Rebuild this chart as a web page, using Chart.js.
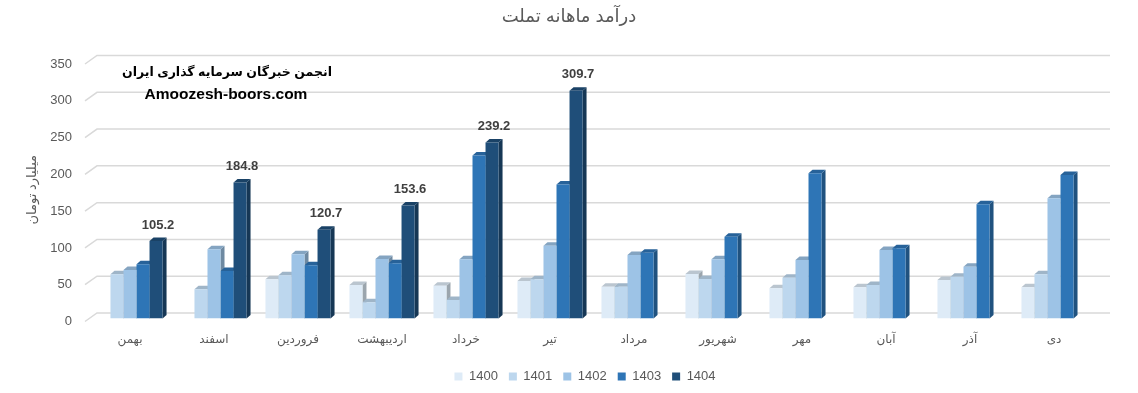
<!DOCTYPE html>
<html>
<head>
<meta charset="utf-8">
<script src="https://cdn.jsdelivr.net/npm/chart.js@4.4.0/dist/chart.umd.min.js"></script>
<style>
html,body{margin:0;padding:0;background:#fff;}
canvas{display:block;}
</style>
</head>
<body>
<canvas id="c" width="1138" height="393"></canvas>
<script>
// ---- data ----
const categories = ['بهمن','اسفند','فروردین','اردیبهشت','خرداد','تیر','مرداد','شهریور','مهر','آبان','آذر','دی'];
const years = ['1400','1401','1402','1403','1404'];
const s1400 = [null, null, 53.3, 45.5, 44.6, 51.0, 43.3, 60.5, 41.0, 42.4, 52.3, 42.4];
const s1401 = [60.1, 39.7, 58.7, 22.0, 25.2, 53.3, 43.3, 53.7, 55.5, 45.5, 56.9, 60.0];
const s1402 = [66.0, 94.0, 87.3, 81.0, 80.5, 99.0, 86.3, 80.5, 79.5, 93.1, 70.4, 163.4];
const s1403 = [73.7, 64.6, 72.3, 75.0, 221.4, 182.0, 89.5, 111.2, 197.4, 95.4, 155.3, 195.1];
const s1404 = [105.2, 184.8, 120.7, 153.6, 239.2, 309.7, null, null, null, null, null, null];
const yTicks = [0, 50, 100, 150, 200, 250, 300, 350];
const chartTitle = 'درآمد ماهانه تملت';
const yAxisTitle = 'میلیارد تومان';
const watermarkLines = ['انجمن خبرگان سرمایه گذاری ایران', 'Amoozesh-boors.com'];
const seriesColors = ['#DEEBF7', '#BDD7EE', '#9DC3E6', '#2E75B6', '#1F4E79'];
const seriesData = [s1400, s1401, s1402, s1403, s1404];

const FONT = "'Liberation Sans', 'DejaVu Sans', sans-serif";
const DX = 4, DY = 3.5;

function shade(hex, f) {
  const n = parseInt(hex.slice(1), 16);
  const r = (n >> 16) & 255, g = (n >> 8) & 255, b = n & 255;
  return 'rgb(' + Math.round(r * f) + ',' + Math.round(g * f) + ',' + Math.round(b * f) + ')';
}

const bar3d = {
  id: 'bar3d',
  afterLayout(chart) {
    const t = chart.titleBlock;
    if (t) { t.left = 0; t.right = chart.width; t.width = chart.width; }
    const l = chart.legend;
    if (l) { l.left -= 7; l.right -= 7; }
  },
  beforeDatasetsDraw(chart) {
    const ctx = chart.ctx, a = chart.chartArea, y = chart.scales.y;
    ctx.save();
    ctx.strokeStyle = '#d9d9d9';
    ctx.lineWidth = 1.5;
    yTicks.forEach(v => {
      const p = y.getPixelForValue(v);
      ctx.beginPath();
      ctx.moveTo(a.left - 3, p + 3);
      ctx.lineTo(a.left + 9, p - 5.5);
      ctx.lineTo(a.right + 14, p - 5.5);
      ctx.stroke();
    });
    chart.data.datasets.forEach((ds, di) => {
      const meta = chart.getDatasetMeta(di);
      meta.data.forEach((el, i) => {
        if (ds.data[i] == null) return;
        const p = el.getProps(['x', 'y', 'base', 'width'], true);
        const l = p.x - p.width / 2, r = p.x + p.width / 2;
        ctx.fillStyle = shade(ds.backgroundColor, 0.7);
        ctx.beginPath();
        ctx.moveTo(r, p.y); ctx.lineTo(r + DX, p.y - DY); ctx.lineTo(r + DX, p.base - DY); ctx.lineTo(r, p.base);
        ctx.closePath(); ctx.fill();
        ctx.fillStyle = shade(ds.backgroundColor, 0.84);
        ctx.beginPath();
        ctx.moveTo(l, p.y); ctx.lineTo(l + DX, p.y - DY); ctx.lineTo(r + DX, p.y - DY); ctx.lineTo(r, p.y);
        ctx.closePath(); ctx.fill();
      });
    });
    ctx.restore();
  },
  afterDatasetsDraw(chart) {
    const ctx = chart.ctx;
    ctx.save();
    const di = chart.data.datasets.length - 1;
    const ds = chart.data.datasets[di];
    const meta = chart.getDatasetMeta(di);
    ctx.fillStyle = '#404040';
    ctx.font = 'bold 13px ' + FONT;
    ctx.textAlign = 'center';
    ctx.textBaseline = 'middle';
    meta.data.forEach((el, i) => {
      if (ds.data[i] == null) return;
      ctx.fillText(ds.data[i].toFixed(1), el.x + 2, el.y - 16);
    });
    ctx.fillStyle = '#000000';
    ctx.font = 'bold 12.5px ' + FONT;
    ctx.fillText(watermarkLines[0], 227, 72.5);
    ctx.font = 'bold 15.5px ' + FONT;
    ctx.fillText(watermarkLines[1], 226, 95);
    ctx.restore();
  }
};

new Chart(document.getElementById('c'), {
  type: 'bar',
  data: {
    labels: categories,
    datasets: years.map((yr, i) => ({
      label: yr,
      data: seriesData[i],
      backgroundColor: seriesColors[i],
      borderWidth: 0,
      categoryPercentage: 0.775,
      barPercentage: 1.0
    }))
  },
  options: {
    responsive: false,
    devicePixelRatio: 1,
    animation: false,
    layout: { padding: { left: 0, right: 42, top: 0, bottom: 0 } },
    plugins: {
      title: {
        display: true,
        text: chartTitle,
        color: '#595959',
        font: { size: 18, weight: 'normal', family: FONT },
        padding: { top: 6, bottom: 33.4 }
      },
      legend: {
        position: 'bottom',
        fullSize: false,
        labels: {
          boxWidth: 8,
          boxHeight: 8,
          padding: 11,
          color: '#595959',
          font: { size: 13, family: FONT },
          sort: (a, b) => a.datasetIndex - b.datasetIndex
        }
      },
      tooltip: { enabled: false }
    },
    scales: {
      x: {
        grid: { display: false, drawTicks: false },
        border: { display: false },
        ticks: { color: '#595959', font: { size: 12, family: FONT }, padding: 13.5, maxRotation: 0, autoSkip: false },
        afterFit: s => { s.height = 40.5; }
      },
      y: {
        min: 0,
        max: 350,
        grid: { display: false, drawTicks: false },
        border: { display: false },
        ticks: { stepSize: 50, color: '#595959', font: { size: 13, family: FONT }, padding: 16, labelOffset: 3 },
        title: { display: true, text: yAxisTitle, color: '#595959', font: { size: 13, family: FONT }, padding: { top: 25, bottom: 0 } },
        afterFit: s => { s.width = 88; }
      }
    }
  },
  plugins: [bar3d]
});
</script>
</body>
</html>
